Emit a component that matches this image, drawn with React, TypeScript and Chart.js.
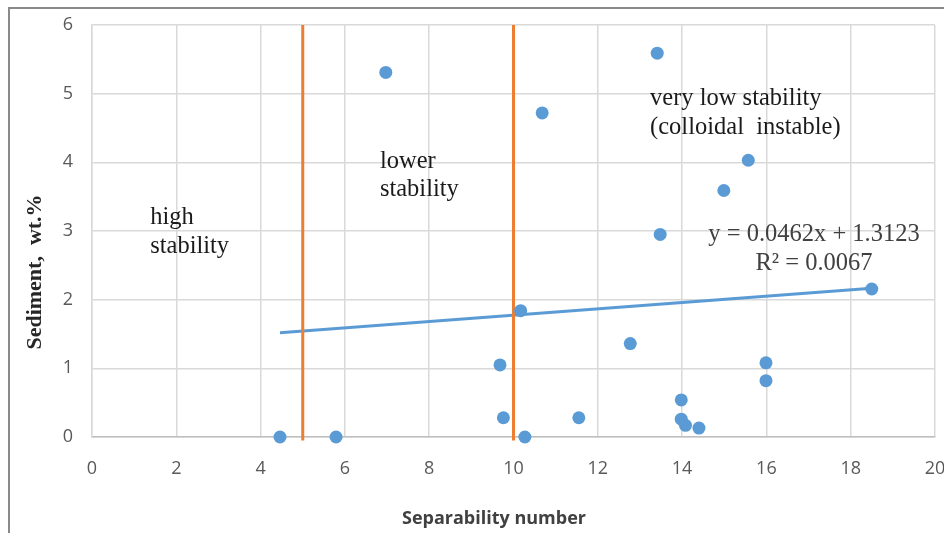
import React, { useEffect, useRef } from "react";
import { Chart, registerables } from "chart.js";

Chart.register(...registerables);

// Scatter data: separability number vs sediment (wt.%)
const sepNumber = [4.46, 5.79, 6.97, 9.68, 9.76, 10.17, 10.27, 10.68, 11.55, 12.77, 13.41, 13.48, 13.98, 13.98, 14.08, 14.4, 14.99, 15.57, 15.99, 15.99, 18.5];
const sediment = [0, 0, 5.31, 1.05, 0.28, 1.84, 0, 4.72, 0.28, 1.36, 5.59, 2.95, 0.54, 0.26, 0.17, 0.13, 3.59, 4.03, 1.08, 0.82, 2.155];

// Linear trendline end points
const trendX = [4.46, 18.5];
const trendY = [1.518, 2.167];

// Stability boundaries
const boundaryX = [5, 10];
const boundaryY = [6, -0.05];

const xTicks = [0, 2, 4, 6, 8, 10, 12, 14, 16, 18, 20];
const yTicks = [0, 1, 2, 3, 4, 5, 6];

// Annotations [x, y(baseline of first line), lines]
const zoneLabels = [
  { x: 1.38, y: 3.1, lines: ["high", "stability"], align: "left" },
  { x: 6.83, y: 3.92, lines: ["lower", "stability"], align: "left" },
  { x: 13.24, y: 4.83, lines: ["very low stability", "(colloidal  instable)"], align: "left" },
  { x: 17.13, y: 2.854, lines: ["y = 0.0462x + 1.3123", "R\u00B2 = 0.0067"], align: "center" },
];

const xTitle = "Separability number";
const yTitle = "Sediment,  wt.%";

const BLUE = "#5b9bd5";
const ORANGE = "#ed7d31";

const overlayPlugin = {
  id: "overlay",
  beforeDraw(chart: any) {
    const ctx = chart.ctx;
    ctx.save();
    ctx.fillStyle = "#ffffff";
    ctx.fillRect(0, 0, chart.width, chart.height);
    ctx.fillStyle = "#8a8a8a";
    ctx.fillRect(8, 7, 2, chart.height - 7);
    ctx.fillRect(8, 7, chart.width - 8, 2);
    ctx.restore();
  },
  afterDatasetsDraw(chart: any) {
    const ctx = chart.ctx;
    const xs = chart.scales.x;
    const ys = chart.scales.y;
    ctx.save();
    ctx.font = '24.5px "Liberation Serif"';
    ctx.textBaseline = "alphabetic";
    zoneLabels.forEach((lab, li) => {
      ctx.fillStyle = li === 3 ? "#404040" : "#1a1a1a";
      ctx.textAlign = lab.align;
      const px = xs.getPixelForValue(lab.x);
      const py = ys.getPixelForValue(lab.y);
      lab.lines.forEach((t, i) => ctx.fillText(t, px, py + i * 28.5));
    });
    // axis titles
    ctx.fillStyle = "#404040";
    ctx.font = 'bold 18px "Open Sans"';
    ctx.textAlign = "center";
    ctx.textBaseline = "middle";
    ctx.fillText(xTitle, 494, 519);
    ctx.translate(35, 272);
    ctx.rotate(-Math.PI / 2);
    ctx.fillStyle = "#262626";
    ctx.font = 'bold 22px "Liberation Serif"';
    ctx.fillText(yTitle, 0, 0);
    ctx.restore();
  },
};

export default function App() {
  const ref = useRef<HTMLCanvasElement>(null);
  useEffect(() => {
    document.body.style.margin = "0";
    const chart = new Chart(ref.current!, {
      type: "scatter",
      data: {
        datasets: [
          {
            label: "Sediment",
            data: sepNumber.map((x, i) => ({ x, y: sediment[i] })),
            backgroundColor: BLUE,
            borderColor: BLUE,
            pointRadius: 6.5,
            pointBorderWidth: 0,
            clip: false,
            order: 1,
          },
          {
            label: "Trend",
            type: "line",
            data: trendX.map((x, i) => ({ x, y: trendY[i] })),
            borderColor: BLUE,
            borderWidth: 3,
            pointRadius: 0,
            showLine: true,
            order: 3,
          },
          ...boundaryX.map((bx) => ({
            label: "Boundary " + bx,
            type: "line" as const,
            data: boundaryY.map((y) => ({ x: bx, y })),
            borderColor: ORANGE,
            borderWidth: 3,
            pointRadius: 0,
            showLine: true,
            clip: false as any,
            order: 2,
          })),
        ],
      } as any,
      options: {
        animation: false,
        responsive: false,
        layout: { padding: { top: 25, right: 9, left: 0, bottom: 0 } },
        plugins: { legend: { display: false }, tooltip: { enabled: false } },
        scales: {
          x: {
            type: "linear",
            min: 0,
            max: 20,
            afterBuildTicks: (s: any) => {
              s.ticks = xTicks.map((v) => ({ value: v }));
            },
            afterFit: (s: any) => {
              s.height = 96;
              s.paddingLeft = 0;
              s.paddingRight = 0;
            },
            grid: { color: "#d9d9d9", lineWidth: 1.5, drawTicks: false },
            border: { color: "#bfbfbf", width: 1.5 },
            ticks: {
              padding: 21,
              color: "#595959",
              font: { family: "Open Sans", size: 18 },
              maxRotation: 0,
            },
          },
          y: {
            type: "linear",
            min: 0,
            max: 6,
            afterBuildTicks: (s: any) => {
              s.ticks = yTicks.map((v) => ({ value: v }));
            },
            afterFit: (s: any) => {
              s.width = 92;
              s.paddingTop = 0;
              s.paddingBottom = 0;
            },
            grid: { color: "#d9d9d9", lineWidth: 1.5, drawTicks: false },
            border: { color: "#d9d9d9", width: 1.5 },
            ticks: {
              padding: 19,
              color: "#595959",
              font: { family: "Open Sans", size: 18 },
            },
          },
        },
      } as any,
      plugins: [overlayPlugin],
    });
    return () => chart.destroy();
  }, []);
  return (
    <div style={{ width: 944, height: 533 }}>
      <canvas ref={ref} width={944} height={533} style={{ display: "block", width: 944, height: 533 }} />
    </div>
  );
}
